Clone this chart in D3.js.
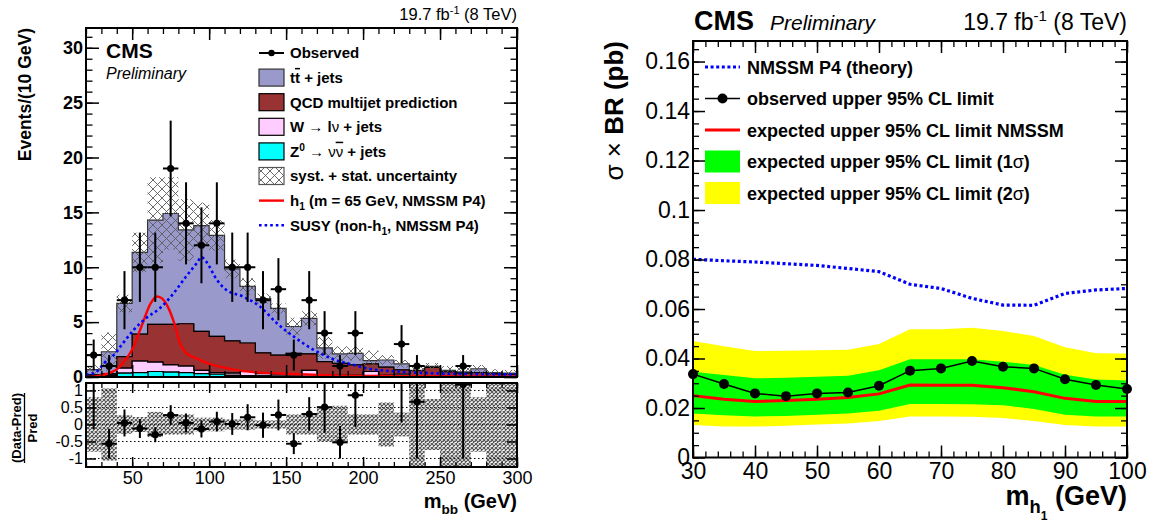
<!DOCTYPE html>
<html>
<head>
<meta charset="utf-8">
<script src="https://cdn.jsdelivr.net/npm/d3@7"></script>
<style>
  body { margin: 0; background: #fff; }
  svg { font-family: "Liberation Sans", Arial, Helvetica, sans-serif; }
</style>
</head>
<body>
<svg id="chart" width="1155" height="521"></svg>
<script>
//Data - left panel, m_bb in 10 GeV bins
const binLow   = [20,30,40,50,60,70,80,90,100,110,120,130,140,150,160,170,180,190,200,210,220,230,240,250,260,270,280,290]
const zJets    = [0.05,0.1,0.35,0.4,0.5,0.45,0.4,0.3,0.25,0.15,0.12,0.1,0.08,0.07,0.06,0.05,0.04,0.04,0.03,0.03,0.02,0.02,0.02,0.02,0.01,0.01,0.01,0.01]
const wJets    = [0.1,0.1,0.45,1.05,0.85,0.65,0.6,0.3,0.15,0.2,0.38,0.2,0.17,0.13,0.54,0.15,0.11,0.11,0.47,0.12,0.23,0.05,0.05,0.05,0.04,0.04,0.03,0.03]
const qcdJets  = [0.05,0.1,1.05,2.45,3.45,3.7,3.85,3.55,3.3,2.95,2.6,1.9,1.75,1.95,1.5,1.2,1.1,0.95,0.7,0.75,0.4,0.5,0.8,0.4,0.3,0.35,0.25,0.2]
const ttJets   = [0.48,2.0,4.85,7.45,9.5,10.1,8.55,9.65,9.2,6.55,5.15,4.95,4.25,2.45,3.25,1.25,0.85,1.05,0.3,0.65,0.55,0.03,0.1,0.13,0.11,0.35,0.11,0.11]
const bkgErr   = [0.4,1.75,0.8,1.8,3.9,3.3,2.8,2.1,1.4,0.85,0.75,0.45,0.45,0.8,0.65,1.0,0.7,0.65,0.9,0.45,0.35,0.5,0.3,0.4,0.5,0.35,0.3,0.3]
const ratioErr = [0.8,1.06,0.27,0.22,0.37,0.3,0.3,0.2,0.2,0.15,0.15,0.12,0.12,0.3,0.3,0.5,0.55,0.3,0.3,0.65,0.35,1.3,0.75,1.3,1.3,0.8,1.3,1.3]
const observed = [2,1,7,10,10,19,14,12,14,10,10,7,8,2,7,4,1,4,0,0,3,1,0,0,1,0,0,0]
const obsErr   = [1.41,1,2.65,3.16,3.16,4.36,3.74,3.46,3.74,3.16,3.16,2.65,2.83,1.41,2.65,2,1,2,0,0,1.73,1,0,0,1,0,0,0]

const h1Mass   = [20,25,31,36,41,45,50,56,62,66,69,73.5,78,81,85,90,94,100,107,120,133,154,180,220,300]
const h1Events = [0,0.03,0.18,0.4,0.8,1.45,2.5,4.6,6.7,7.33,7.2,6.3,4.6,3.1,2.2,1.8,1.55,1.2,0.94,0.58,0.4,0.27,0.15,0.08,0.03]
const susyMass   = [20,27,32,38,44,51,59,68,77,85,92,95,98,105,111,122,133,144,155,168,181,194,202,224,245,267,295,300]
const susyEvents = [0.2,0.5,1.3,2.0,3.08,4.3,5.36,6.27,7.64,9.16,10.38,10.93,10.53,8.86,7.95,7.33,6.42,4.9,3.68,2.47,1.6,1.1,0.8,0.48,0.34,0.27,0.24,0.24]

const mbbTicks   = [50,100,150,200,250,300]
const eventTicks = [0,5,10,15,20,25,30]
const ratioTicks = [-1,-0.5,0,0.5,1]

//Data - right panel, limits vs m_h1
const massPoints  = [30,35,40,45,50,55,60,65,70,75,80,85,90,95,100]
const theoryXs    = [0.0801,0.0795,0.079,0.0783,0.0776,0.0764,0.0751,0.07,0.0683,0.0643,0.0616,0.0615,0.0663,0.0677,0.0683]
const obsLimit    = [0.0337,0.0297,0.0259,0.0248,0.0259,0.0263,0.029,0.0351,0.036,0.039,0.0367,0.036,0.0316,0.0293,0.0277]
const expLimit    = [0.025,0.0235,0.0226,0.023,0.0235,0.0242,0.0257,0.0293,0.0292,0.0292,0.0282,0.0266,0.0239,0.0226,0.0226]
const exp1sUp     = [0.0347,0.0333,0.032,0.0322,0.0326,0.033,0.0353,0.0397,0.0397,0.0397,0.0387,0.0374,0.0334,0.0315,0.0311]
const exp1sDown   = [0.0178,0.0171,0.0166,0.0168,0.0173,0.0178,0.0189,0.0216,0.0216,0.0215,0.0211,0.0196,0.0173,0.0166,0.0166]
const exp2sUp     = [0.0471,0.045,0.043,0.0431,0.0433,0.0435,0.0459,0.0518,0.0518,0.0524,0.0511,0.0491,0.0446,0.0421,0.042]
const exp2sDown   = [0.0131,0.0125,0.0125,0.0128,0.0133,0.0137,0.0147,0.0166,0.0166,0.0165,0.016,0.0147,0.0131,0.0125,0.0125]

const massTicks  = [30,40,50,60,70,80,90,100]
const limitTicks = [0,0.02,0.04,0.06,0.08,0.1,0.12,0.14,0.16]

const FONT = '"Liberation Sans", Arial, Helvetica, sans-serif'
const svg = d3.select('#chart')
const defs = svg.append('defs')

// hatch patterns for the uncertainty bands
defs.append('pattern').attr('id', 'hatch').attr('patternUnits', 'userSpaceOnUse')
  .attr('width', 9).attr('height', 9)
  .append('path').attr('d', 'M0,0L9,9M9,0L0,9M-1,8L1,10M8,-1L10,1')
  .attr('stroke', '#5a5a5a').attr('stroke-width', 0.9).attr('fill', 'none')
defs.append('pattern').attr('id', 'fine').attr('patternUnits', 'userSpaceOnUse')
  .attr('width', 4).attr('height', 4)
  .append('path').attr('d', 'M0,0L4,4M4,0L0,4')
  .attr('stroke', '#555').attr('stroke-width', 1.2).attr('fill', 'none')

// text with bold/normal, sub/superscript and overline pieces
const richText = (g, x, y, size, parts, anchor) => {
  const t = g.append('text').attr('x', x).attr('y', y)
    .attr('font-size', size).attr('font-weight', 'bold')
    .attr('text-anchor', anchor || 'start')
  let shift = 0
  parts.forEach(p => {
    const [str, k] = typeof p === 'string' ? [p, ''] : p
    const flags = (k || '').split(' ')
    const s = t.append('tspan').text(str)
    let target = 0
    if (flags.includes('sub'))  { target = size * 0.3;  s.attr('font-size', size * 0.68) }
    if (flags.includes('sub2')) { target = size * 0.55; s.attr('font-size', size * 0.45) }
    if (flags.includes('sup'))  { target = -size * 0.4; s.attr('font-size', size * 0.68) }
    if (target !== shift) { s.attr('dy', target - shift); shift = target }
    if (flags.includes('norm')) s.attr('font-weight', 'normal')
    if (flags.includes('over')) s.style('text-decoration', 'overline')
    if (flags.includes('ital')) s.attr('font-style', 'italic')
  })
  return t
}

// inward ticks on all four sides of a frame, plus optional labels
const frameTicks = (g, x, y, o) => {
  const [xa, xb] = x.range(), [yb, ya] = y.range()
  const sides = [
    [d3.axisBottom, x, `translate(0,${yb})`, o.xMajor, o.xMinor, o.xLabels],
    [d3.axisTop,    x, `translate(0,${ya})`, o.xMajor, o.xMinor, false],
    [d3.axisLeft,   y, `translate(${xa},0)`, o.yMajor, o.yMinor, o.yLabels],
    [d3.axisRight,  y, `translate(${xb},0)`, o.yMajor, o.yMinor, false]
  ]
  sides.forEach(([make, scale, tr, major, minor, labels]) => {
    const big = (make === d3.axisBottom || make === d3.axisTop) ? o.xLen : o.yLen
    g.append('g').attr('transform', tr)
      .call(make(scale).tickValues(minor).tickSize(-big / 2).tickSizeOuter(0).tickFormat(''))
      .call(a => a.select('.domain').remove())
      .selectAll('line').attr('stroke-width', 1.3)
    const ax = g.append('g').attr('transform', tr)
      .call(make(scale).tickValues(major).tickSize(-big).tickSizeOuter(0)
        .tickPadding(labels ? labels.pad : 0).tickFormat(labels ? labels.fmt : ''))
      .call(a => a.select('.domain').remove())
    ax.selectAll('line').attr('stroke-width', 1.5)
    if (labels) {
      ax.attr('font-family', FONT).attr('font-size', labels.size)
        .attr('font-weight', labels.bold ? 'bold' : 'normal')
      ax.selectAll('text').attr('fill', '#000')
    }
  })
  g.append('rect').attr('x', xa).attr('y', ya).attr('width', xb - xa).attr('height', yb - ya)
    .attr('fill', 'none').attr('stroke', '#000').attr('stroke-width', 2)
}

// ---------------- left panel ----------------
const xL = d3.scaleLinear().domain([20, 300]).range([86, 517])
const yL = d3.scaleLinear().domain([0, 31.8]).range([377, 28])
const yRatio = d3.scaleLinear().domain([-1.25, 1.22]).range([467, 383])

const bins = binLow.map((lo, i) => ({
  lo, hi: lo + 10, z: zJets[i], w: wJets[i], qcd: qcdJets[i], tt: ttJets[i],
  obs: observed[i], err: obsErr[i], unc: bkgErr[i], rel: ratioErr[i]
}))
bins.forEach(b => { b.total = b.z + b.w + b.qcd + b.tt })

const left = svg.append('g')
defs.append('clipPath').attr('id', 'clipMain').append('rect')
  .attr('x', 86).attr('y', 28).attr('width', 431).attr('height', 349)
defs.append('clipPath').attr('id', 'clipRatio').append('rect')
  .attr('x', 86).attr('y', 383).attr('width', 431).attr('height', 84)

const main = left.append('g').attr('clip-path', 'url(#clipMain)')

// stacked backgrounds as step areas
const layerStyle = {
  z:   { fill: '#00ffff', stroke: '#000' },
  w:   { fill: '#ffccff', stroke: '#000' },
  qcd: { fill: '#993333', stroke: '#000' },
  tt:  { fill: '#9999cc', stroke: '#333' }
}
const stacked = d3.stack().keys(['z', 'w', 'qcd', 'tt'])(bins)
const stepArea = d3.area().curve(d3.curveStepAfter)
  .x(p => xL(p.x)).y0(p => yL(p.y0)).y1(p => yL(p.y1))
stacked.slice().reverse().forEach(layer => {
  const pts = layer.map(d => ({ x: d.data.lo, y0: d[0], y1: d[1] }))
  const last = layer[layer.length - 1]
  pts.push({ x: last.data.hi, y0: last[0], y1: last[1] })
  main.append('path').attr('d', stepArea(pts))
    .attr('fill', layerStyle[layer.key].fill)
    .attr('stroke', layerStyle[layer.key].stroke).attr('stroke-width', 1.2)
})

// syst + stat band
main.append('g').selectAll('rect').data(bins).join('rect')
  .attr('x', d => xL(d.lo)).attr('width', d => xL(d.hi) - xL(d.lo))
  .attr('y', d => yL(d.total + d.unc))
  .attr('height', d => yL(d.total - d.unc) - yL(d.total + d.unc))
  .attr('fill', 'url(#hatch)')

// signal curves
const h1Line = d3.line().curve(d3.curveMonotoneX).x(d => xL(d[0])).y(d => yL(d[1]))
main.append('path').attr('d', h1Line(d3.zip(h1Mass, h1Events)))
  .attr('fill', 'none').attr('stroke', '#ff0000').attr('stroke-width', 2.4)
main.append('path').attr('d', h1Line(d3.zip(susyMass, susyEvents)))
  .attr('fill', 'none').attr('stroke', '#0000ff').attr('stroke-width', 2.6)
  .attr('stroke-dasharray', '2.6,3')

// observed points
const obsBins = bins.filter(d => d.obs > 0)
const obsG = left.append('g').selectAll('g').data(obsBins).join('g')
obsG.append('line')
  .attr('x1', d => xL(d.lo + 5)).attr('x2', d => xL(d.lo + 5))
  .attr('y1', d => yL(d.obs - d.err)).attr('y2', d => yL(d.obs + d.err))
  .attr('stroke', '#000').attr('stroke-width', 2)
obsG.append('line')
  .attr('x1', d => xL(d.lo)).attr('x2', d => xL(d.hi))
  .attr('y1', d => yL(d.obs)).attr('y2', d => yL(d.obs))
  .attr('stroke', '#000').attr('stroke-width', 2)
obsG.append('circle').attr('cx', d => xL(d.lo + 5)).attr('cy', d => yL(d.obs)).attr('r', 3.6)

frameTicks(left.append('g'), xL, yL, {
  xMajor: mbbTicks, xMinor: d3.range(20, 301, 10), xLen: 12,
  yMajor: eventTicks, yMinor: d3.range(0, 32, 1), yLen: 13,
  yLabels: { fmt: d => d, size: 18, bold: true, pad: 3 }
})

// ratio panel
const ratio = left.append('g')
ratio.append('g').selectAll('line').data(ratioTicks).join('line')
  .attr('x1', 86).attr('x2', 517).attr('y1', d => yRatio(d)).attr('y2', d => yRatio(d))
  .attr('stroke', '#000').attr('stroke-width', 1).attr('stroke-dasharray', '1.5,2.5')
const ratioIn = ratio.append('g').attr('clip-path', 'url(#clipRatio)')
ratioIn.append('g').selectAll('rect').data(bins).join('rect')
  .attr('x', d => xL(d.lo)).attr('width', d => xL(d.hi) - xL(d.lo))
  .attr('y', d => yRatio(d.rel)).attr('height', d => yRatio(-d.rel) - yRatio(d.rel))
  .attr('fill', 'url(#fine)')
const rG = ratioIn.append('g').selectAll('g').data(obsBins).join('g')
rG.append('line')
  .attr('x1', d => xL(d.lo + 5)).attr('x2', d => xL(d.lo + 5))
  .attr('y1', d => yRatio((d.obs - d.err - d.total) / d.total))
  .attr('y2', d => yRatio((d.obs + d.err - d.total) / d.total))
  .attr('stroke', '#000').attr('stroke-width', 2)
rG.append('line')
  .attr('x1', d => xL(d.lo)).attr('x2', d => xL(d.hi))
  .attr('y1', d => yRatio((d.obs - d.total) / d.total)).attr('y2', d => yRatio((d.obs - d.total) / d.total))
  .attr('stroke', '#000').attr('stroke-width', 2)
rG.append('circle').attr('cx', d => xL(d.lo + 5))
  .attr('cy', d => yRatio((d.obs - d.total) / d.total)).attr('r', 3.6)

frameTicks(ratio.append('g'), xL, yRatio, {
  xMajor: mbbTicks, xMinor: d3.range(20, 301, 10), xLen: 10,
  xLabels: { fmt: d => d, size: 18, pad: 4 },
  yMajor: ratioTicks, yMinor: [], yLen: 10,
  yLabels: { fmt: d => String(d), size: 16, pad: 3 }
})

// left texts
left.append('text').attr('x', 517).attr('y', 20).attr('text-anchor', 'end').attr('font-size', 16.5)
  .call(t => { t.append('tspan').text('19.7 fb'); t.append('tspan').attr('font-size', 11).attr('dy', -6).text('-1'); t.append('tspan').attr('dy', 6).text(' (8 TeV)') })
left.append('text').attr('x', 106).attr('y', 58).attr('font-size', 21).attr('font-weight', 'bold').text('CMS')
left.append('text').attr('x', 106).attr('y', 79).attr('font-size', 16).attr('font-style', 'italic').text('Preliminary')
left.append('text').attr('transform', 'translate(31,28) rotate(-90)').attr('text-anchor', 'end')
  .attr('font-size', 17.5).attr('font-weight', 'bold').text('Events/(10 GeV)')
richText(left, 517, 508, 20, ['m', ['bb', 'sub'], ' (GeV)'], 'end')
const frac = left.append('g').attr('transform', 'translate(0,428) rotate(-90)')
  .attr('font-size', 13).attr('font-weight', 'bold').attr('text-anchor', 'middle')
frac.append('text').attr('y', 21).text('(Data-Pred)')
frac.append('line').attr('x1', -35).attr('x2', 35).attr('y1', 24.5).attr('y2', 24.5).attr('stroke', '#000').attr('stroke-width', 1.3)
frac.append('text').attr('y', 37).text('Pred')

// left legend
const legL = left.append('g')
const legLeft = [
  { kind: 'obs', label: ['Observed'] },
  { kind: 'box', fill: '#9999cc', stroke: '#333', label: ['t', ['t', 'over'], ' + jets'] },
  { kind: 'box', fill: '#993333', stroke: '#000', label: ['QCD multijet prediction'] },
  { kind: 'box', fill: '#ffccff', stroke: '#000', label: ['W ', ['\u2192', 'norm'], ' l', ['\u03bd', 'norm'], ' + jets'] },
  { kind: 'box', fill: '#00ffff', stroke: '#000', label: ['Z', ['0', 'sup'], ' ', ['\u2192', 'norm'], ' ', ['\u03bd', 'norm'], ['\u03bd', 'norm over'], ' + jets'] },
  { kind: 'box', fill: 'url(#hatch)', stroke: '#555', label: ['syst. + stat. uncertainty'] },
  { kind: 'line', color: '#ff0000', dash: null, label: ['h', ['1', 'sub'], ' (m = 65 GeV, NMSSM P4)'] },
  { kind: 'line', color: '#0000ff', dash: '2.6,3', label: ['SUSY (non-h', ['1', 'sub'], ', NMSSM P4)'] }
]
legLeft.forEach((e, i) => {
  const yc = 53 + i * 24.6
  if (e.kind === 'obs') {
    legL.append('line').attr('x1', 259).attr('x2', 284).attr('y1', yc).attr('y2', yc).attr('stroke', '#000').attr('stroke-width', 2)
    legL.append('circle').attr('cx', 271.5).attr('cy', yc).attr('r', 3.2)
  } else if (e.kind === 'box') {
    legL.append('rect').attr('x', 259).attr('y', yc - 8.5).attr('width', 25).attr('height', 17)
      .attr('fill', e.fill).attr('stroke', e.stroke).attr('stroke-width', 1.2)
  } else {
    legL.append('line').attr('x1', 259).attr('x2', 284).attr('y1', yc).attr('y2', yc)
      .attr('stroke', e.color).attr('stroke-width', 2.4).attr('stroke-dasharray', e.dash)
  }
  richText(legL, 290, yc + 5.3, 15, e.label)
})

// ---------------- right panel ----------------
const xM = d3.scaleLinear().domain([30, 100]).range([693, 1127])
const yM = d3.scaleLinear().domain([0, 0.1683]).range([457.5, 41])
const right = svg.append('g')
const limits = massPoints.map((m, i) => ({
  m, th: theoryXs[i], obs: obsLimit[i], exp: expLimit[i],
  u1: exp1sUp[i], d1: exp1sDown[i], u2: exp2sUp[i], d2: exp2sDown[i]
}))

right.append('path').datum(limits)
  .attr('d', d3.area().x(d => xM(d.m)).y0(d => yM(d.d2)).y1(d => yM(d.u2)))
  .attr('fill', '#ffff00')
right.append('path').datum(limits)
  .attr('d', d3.area().x(d => xM(d.m)).y0(d => yM(d.d1)).y1(d => yM(d.u1)))
  .attr('fill', '#00ff00')
right.append('path').datum(limits)
  .attr('d', d3.line().x(d => xM(d.m)).y(d => yM(d.exp)))
  .attr('fill', 'none').attr('stroke', '#ff0000').attr('stroke-width', 3)
right.append('path').datum(limits)
  .attr('d', d3.line().x(d => xM(d.m)).y(d => yM(d.th)))
  .attr('fill', 'none').attr('stroke', '#0000ff').attr('stroke-width', 3.2).attr('stroke-dasharray', '3,2.6')
right.append('path').datum(limits)
  .attr('d', d3.line().x(d => xM(d.m)).y(d => yM(d.obs)))
  .attr('fill', 'none').attr('stroke', '#000').attr('stroke-width', 1.5)

frameTicks(right.append('g'), xM, yM, {
  xMajor: massTicks, xMinor: d3.range(30, 101, 2), xLen: 12,
  xLabels: { fmt: d => d, size: 23, pad: 5 },
  yMajor: limitTicks, yMinor: d3.range(0, 0.1681, 0.005), yLen: 12,
  yLabels: { fmt: d => d === 0 ? '0' : d3.format('.2~f')(d), size: 23, pad: 3 }
})

right.append('g').selectAll('circle').data(limits).join('circle')
  .attr('cx', d => xM(d.m)).attr('cy', d => yM(d.obs)).attr('r', 5)

// right texts
right.append('text').attr('x', 694).attr('y', 30).attr('font-size', 27).attr('font-weight', 'bold').text('CMS')
right.append('text').attr('x', 770).attr('y', 30).attr('font-size', 21).attr('font-style', 'italic').text('Preliminary')
right.append('text').attr('x', 1127).attr('y', 30).attr('text-anchor', 'end').attr('font-size', 23)
  .call(t => { t.append('tspan').text('19.7 fb'); t.append('tspan').attr('font-size', 15).attr('dy', -9).text('-1'); t.append('tspan').attr('dy', 9).text(' (8 TeV)') })
richText(right.append('g').attr('transform', 'translate(623,41) rotate(-90)'), 0, 0, 26,
  [['\u03c3', 'norm'], [' \u00d7 ', 'norm'], 'BR (pb)'], 'end')
richText(right, 1127, 505, 27, ['m', ['h', 'sub'], ['1', 'sub2'], ' (GeV)'], 'end')

// right legend
const legR = right.append('g')
const legRight = [
  { kind: 'line', color: '#0000ff', dash: '3,2.6', label: ['NMSSM P4 (theory)'] },
  { kind: 'obs', label: ['observed upper 95% CL limit'] },
  { kind: 'line', color: '#ff0000', dash: null, label: ['expected upper 95% CL limit NMSSM'] },
  { kind: 'box', fill: '#00ff00', label: ['expected upper 95% CL limit (1', ['\u03c3', 'norm'], ')'] },
  { kind: 'box', fill: '#ffff00', label: ['expected upper 95% CL limit (2', ['\u03c3', 'norm'], ')'] }
]
legRight.forEach((e, i) => {
  const yc = 67 + i * 31.5
  if (e.kind === 'obs') {
    legR.append('line').attr('x1', 705).attr('x2', 740).attr('y1', yc).attr('y2', yc).attr('stroke', '#000').attr('stroke-width', 1.5)
    legR.append('circle').attr('cx', 722.5).attr('cy', yc).attr('r', 5)
  } else if (e.kind === 'box') {
    legR.append('rect').attr('x', 705).attr('y', yc - 11).attr('width', 35).attr('height', 22).attr('fill', e.fill)
  } else {
    legR.append('line').attr('x1', 705).attr('x2', 740).attr('y1', yc).attr('y2', yc)
      .attr('stroke', e.color).attr('stroke-width', 3).attr('stroke-dasharray', e.dash)
  }
  richText(legR, 747, yc + 6.5, 18, e.label)
})
</script>
</body>
</html>
